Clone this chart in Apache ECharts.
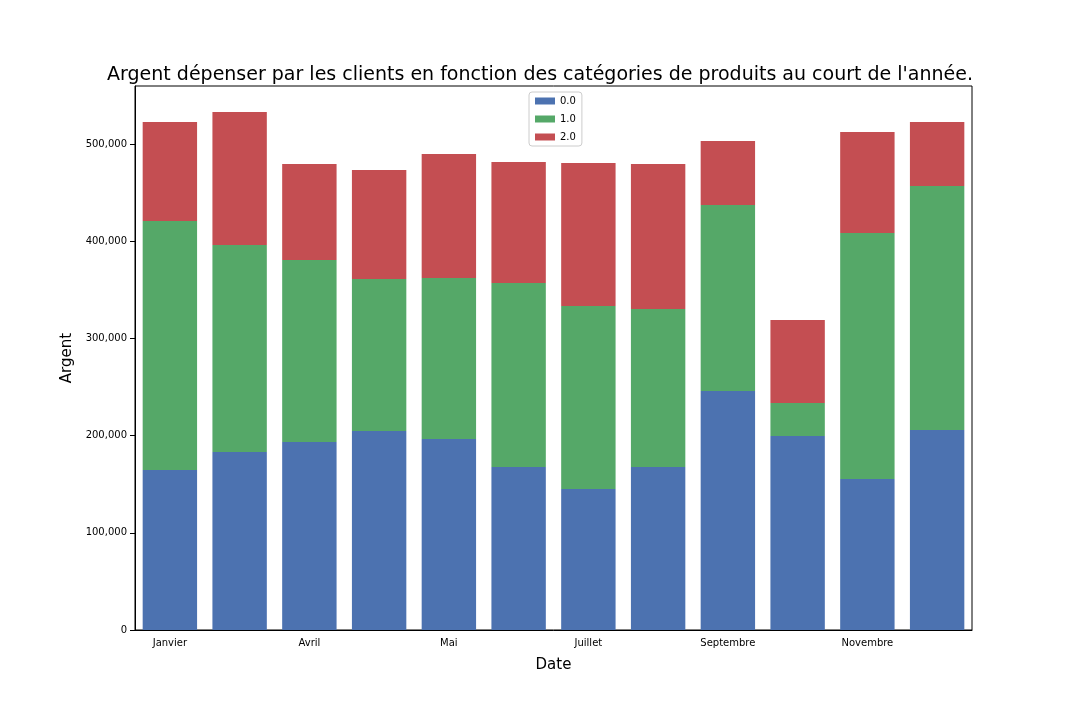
<!DOCTYPE html>
<html><head><meta charset="utf-8">
<script src="https://cdn.jsdelivr.net/npm/echarts@6/dist/echarts.min.js"></script>
<style>body{margin:0}#c{width:1080px;height:720px}</style></head>
<body><div id="c"></div>
<script>
const months = ['Janvier','Fevrier','Avril','Mars','Mai','Juin','Juillet','Août','Septembre','Octobre','Novembre','Décembre'];
const cat0 = [164600,183100,193400,204700,196500,167700,145100,167700,245900,199600,155300,205800];
const cat1 = [256200,213000,187300,156400,165600,189300,188200,162500,191300,33900,253100,251000];
const cat2 = [101800,136800,98700,112200,127600,124500,147200,149200,65900,85400,103900,65800];
const names = ['0.0','1.0','2.0'];
const colors = ['#4c72b0','#55a868','#c44e52'];

let chart = echarts.init(document.getElementById('c'));
const ff = 'DejaVu Sans';
chart.setOption({
  animation: false,
  textStyle: {fontFamily: ff},
  title: {
    text: "Argent dépenser par les clients en fonction des catégories de produits au court de l'année.",
    left: 'center', top: 61,
    textStyle: {fontSize: 19, fontWeight: 'normal', color: '#000', fontFamily: ff}
  },
  legend: {
    top: 92, left: 529, orient: 'vertical', itemWidth: 20, itemHeight: 7, itemGap: 8,
    borderColor: '#ccc', borderWidth: 1, borderRadius: 3, padding: [4, 6],
    icon: 'rect', textStyle: {fontSize: 10, color: '#000'}
  },
  grid: {left: 135, right: 108, top: 86, bottom: 90, show: true, borderColor: '#000', borderWidth: 1},
  xAxis: {
    type: 'category', data: months, name: 'Date', nameLocation: 'middle', nameGap: 28,
    nameTextStyle: {fontSize: 15, color: '#000'},
    axisLine: {lineStyle: {color: '#000'}}, axisTick: {alignWithLabel: true, lineStyle: {color: '#000'}},
    axisLabel: {color: '#000', fontSize: 10}
  },
  yAxis: {
    type: 'value', min: 0, max: 559700, interval: 100000, name: 'Argent', nameLocation: 'middle', nameGap: 55,
    nameTextStyle: {fontSize: 15, color: '#000'},
    axisLine: {show: true, lineStyle: {color: '#000'}}, axisTick: {show: true, lineStyle: {color: '#000'}},
    axisLabel: {color: '#000', fontSize: 10, showMaxLabel: false}, splitLine: {show: false}
  },
  series: [cat0, cat1, cat2].map((d, i) => ({
    name: names[i], type: 'bar', stack: 's', data: d, barWidth: '78%',
    itemStyle: {color: colors[i]}
  }))
});
</script></body></html>
